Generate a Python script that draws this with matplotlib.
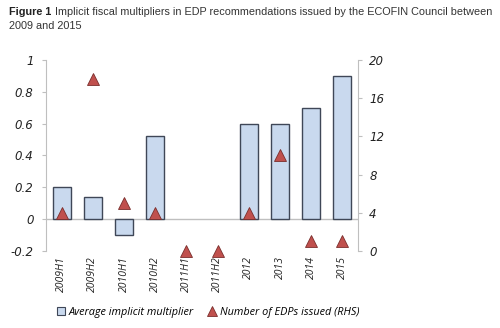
import numpy as np
import matplotlib.pyplot as plt
from matplotlib.lines import Line2D
from matplotlib.patches import Patch

# data
periods = ['2009H1', '2009H2', '2010H1', '2010H2', '2011H1', '2011H2',
           '2012', '2013', '2014', '2015']
multiplier = [0.2, 0.14, -0.1, 0.52, 0, 0, 0.6, 0.6, 0.7, 0.9]
n_edps = [4, 18, 5, 4, 0, 0, 4, 10, 1, 1]

bar_col = '#c9d9ee'
bar_edge = '#3f4757'
tri_col = '#c0504d'
tri_edge = '#7a2e2c'
grey = '#bfbfbf'

fig = plt.figure(figsize=(5.0, 3.28), dpi=100)
ax = fig.add_axes([0.092, 0.235, 0.624, 0.582])
x = np.arange(len(periods))

# no outline on the empty (zero) bars
lw = [1.0 if v != 0 else 0 for v in multiplier]
ax.bar(x, multiplier, width=0.58, color=bar_col, edgecolor=bar_edge, linewidth=lw, zorder=2)
ax.axhline(0, color=grey, lw=1, zorder=1)
ax.set_xlim(-0.5, len(periods) - 0.5)
ax.set_ylim(-0.2, 1.0)
ax.set_yticks([-0.2, 0, 0.2, 0.4, 0.6, 0.8, 1.0])
ax.set_yticklabels(['-0.2', '0', '0.2', '0.4', '0.6', '0.8', '1'],
                   fontstyle='italic', fontsize=8.5, color='#222222')
ax.set_xticks(x)
ax.set_xticklabels(periods, rotation=90, fontstyle='italic', fontsize=7.5,
                   family='Open Sans', color='#222222')
ax.tick_params(axis='x', length=0, pad=4)
ax.tick_params(axis='y', length=3, color=grey, pad=6)

ax2 = ax.twinx()
ax2.plot(x, n_edps, linestyle='none', marker='^', markersize=8.5,
         markerfacecolor=tri_col, markeredgecolor=tri_edge, markeredgewidth=0.6,
         zorder=3, clip_on=False)
ax2.set_ylim(0, 20)
ax2.set_yticks([0, 4, 8, 12, 16, 20])
ax2.set_yticklabels(['0', '4', '8', '12', '16', '20'], fontstyle='italic',
                    fontsize=8.5, color='#222222')
ax2.tick_params(axis='y', length=3, color=grey, pad=5)

for a in (ax, ax2):
    for s in ['top', 'bottom']:
        a.spines[s].set_visible(False)
    a.spines['left'].set_color(grey)
    a.spines['right'].set_color(grey)
ax.spines['right'].set_visible(False)
ax2.spines['left'].set_visible(False)

# title
fig.text(0.018, 0.962, 'Figure 1', fontsize=7.8, fontweight='bold', family='Liberation Sans',
         va='center', color='#222222')
fig.text(0.11, 0.962, 'Implicit fiscal multipliers in EDP recommendations issued by the ECOFIN Council between',
         fontsize=7.8, family='Liberation Sans', va='center', color='#333333')
fig.text(0.018, 0.92, '2009 and 2015', fontsize=7.8, family='Liberation Sans',
         va='center', color='#333333')

handles = [Patch(facecolor=bar_col, edgecolor=bar_edge, linewidth=0.8),
           Line2D([], [], linestyle='none', marker='^', markersize=7,
                  markerfacecolor=tri_col, markeredgecolor=tri_edge, markeredgewidth=0.6)]
fig.legend(handles, ['Average implicit multiplier', 'Number of EDPs issued (RHS)'],
           loc='center left', bbox_to_anchor=(0.094, 0.048), ncol=2, frameon=False,
           prop={'style': 'italic', 'size': 7.8, 'family': 'Open Sans'},
           handlelength=0.8, handleheight=0.8, handletextpad=0.3, columnspacing=1.3)

fig.savefig('out.png', dpi=100)
